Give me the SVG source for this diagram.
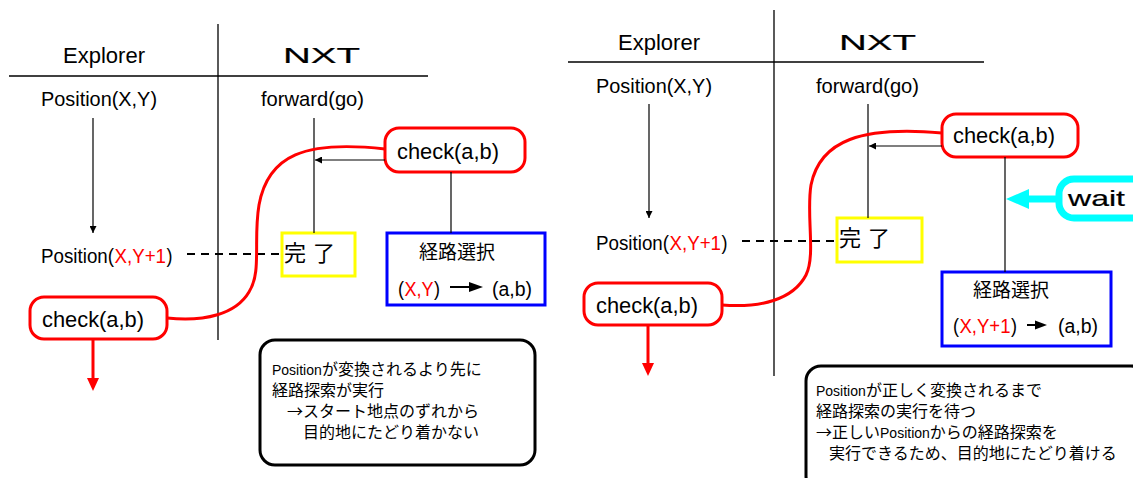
<svg xmlns="http://www.w3.org/2000/svg" width="1133" height="478" viewBox="0 0 1133 478">
<defs>
<style>
text{font-family:"Liberation Sans",Arial,"Noto Sans CJK JP",sans-serif;fill:#000}
.lbl{font-size:21px}
.hdr{font-size:22px}
.wide{font-size:22px;stroke:#000;stroke-width:0.2}
.chk{font-size:22px}
.jp{font-family:"Noto Sans CJK JP","Liberation Sans",sans-serif}
.note{font-size:16px}
.pos{font-family:"Liberation Sans",Arial,sans-serif;font-size:14px}
.red{fill:#ff0000}
.frame{stroke:#000;stroke-width:1.3;fill:none}
.thin{stroke:#000;stroke-width:1.2;fill:none}
.dash{stroke:#000;stroke-width:2;stroke-dasharray:8 6;fill:none}
.rbox{fill:#fff;stroke:#ff0000;stroke-width:3}
.ybox{fill:#fff;stroke:#ffff00;stroke-width:3}
.bbox{fill:#fff;stroke:#0000ff;stroke-width:3}
.nbox{fill:#fff;stroke:#000;stroke-width:3}
.cbox{fill:#fff;stroke:#00ffff;stroke-width:7}
.curve{stroke:#ff0000;stroke-width:3;fill:none}
</style>
<marker id="ah" viewBox="0 0 10 10" refX="10" refY="5" markerWidth="7" markerHeight="7" markerUnits="userSpaceOnUse" orient="auto"><path d="M0,0 L10,5 L0,10 z" fill="#000"/></marker>
</defs>

<!-- LEFT DIAGRAM -->
<g id="left-frame">
<line class="frame" x1="218" y1="24" x2="218" y2="340"/>
<line class="frame" x1="9" y1="76" x2="428" y2="76"/>
<text class="hdr" x="104" y="63" text-anchor="middle">Explorer</text>
<text class="wide" x="283" y="63" textLength="77" lengthAdjust="spacingAndGlyphs">NXT</text>
</g>
<g id="left-pos1"><text class="lbl" x="41" y="106" textLength="116" lengthAdjust="spacingAndGlyphs">Position(X,Y)</text></g>
<g id="left-forward"><text class="lbl" x="261" y="106" textLength="103" lengthAdjust="spacingAndGlyphs">forward(go)</text></g>
<g id="left-pos2">
<text class="lbl" x="41" y="263" textLength="73" lengthAdjust="spacingAndGlyphs">Position(</text>
<text class="lbl red" x="114.5" y="263" textLength="51.5" lengthAdjust="spacingAndGlyphs">X,Y+1</text>
<text class="lbl" x="166.5" y="263" textLength="6" lengthAdjust="spacingAndGlyphs">)</text>
</g>
<g id="left-done"><rect class="ybox" x="282" y="233" width="73" height="43"/><text class="jp" x="284" y="261" font-size="22" letter-spacing="7">完了</text></g>
<g id="left-route"><rect class="bbox" x="387" y="233" width="158" height="72"/>
<text class="jp" x="419" y="259" font-size="19">経路選択</text>
<text x="398" y="296" font-size="20" textLength="6" lengthAdjust="spacingAndGlyphs">(</text>
<text class="red" x="404.5" y="296" font-size="20" textLength="29" lengthAdjust="spacingAndGlyphs">X,Y</text>
<text x="434" y="296" font-size="20" textLength="6" lengthAdjust="spacingAndGlyphs">)</text>
<line x1="450" y1="287" x2="470" y2="287" stroke="#000" stroke-width="2"/><path d="M469,282 L483,287 L469,292 z" fill="#000"/>
<text x="492" y="296" font-size="20" textLength="40" lengthAdjust="spacingAndGlyphs">(a,b)</text></g>
<g id="left-check-top"><rect class="rbox" x="385" y="128" width="140" height="44" rx="14"/><text class="chk" x="397" y="159" textLength="102" lengthAdjust="spacingAndGlyphs">check(a,b)</text></g>
<g id="left-check-bottom"><rect class="rbox" x="30" y="297" width="137" height="42" rx="14"/><text class="chk" x="42" y="327" textLength="102" lengthAdjust="spacingAndGlyphs">check(a,b)</text></g>
<g id="left-note"><rect class="nbox" x="260" y="340" width="275" height="125" rx="15"/>
<text class="pos" x="272" y="375">Position</text>
<text class="jp note" x="322" y="375">が変換されるより先に</text>
<text class="jp note" x="272" y="396">経路探索が実行</text>
<text class="jp note" x="287" y="417">→スタート地点のずれから</text>
<text class="jp note" x="303" y="438">目的地にたどり着かない</text>
</g>

<!-- RIGHT DIAGRAM -->
<g id="right-frame">
<line class="frame" x1="774" y1="10" x2="774" y2="376"/>
<line class="frame" x1="568" y1="62" x2="984" y2="62"/>
<text class="hdr" x="659" y="50" text-anchor="middle">Explorer</text>
<text class="wide" x="839" y="50" textLength="77" lengthAdjust="spacingAndGlyphs">NXT</text>
</g>
<g id="right-pos1"><text class="lbl" x="596" y="93" textLength="116" lengthAdjust="spacingAndGlyphs">Position(X,Y)</text></g>
<g id="right-forward"><text class="lbl" x="816" y="93" textLength="103" lengthAdjust="spacingAndGlyphs">forward(go)</text></g>
<g id="right-pos2">
<text class="lbl" x="596" y="250" textLength="73" lengthAdjust="spacingAndGlyphs">Position(</text>
<text class="lbl red" x="669.5" y="250" textLength="51.5" lengthAdjust="spacingAndGlyphs">X,Y+1</text>
<text class="lbl" x="721.5" y="250" textLength="6" lengthAdjust="spacingAndGlyphs">)</text>
</g>
<g id="right-done"><rect class="ybox" x="837" y="218" width="85" height="44"/><text class="jp" x="839" y="246" font-size="22" letter-spacing="7">完了</text></g>
<g id="right-route"><rect class="bbox" x="942" y="272" width="169" height="74"/>
<text class="jp" x="973" y="297" font-size="19">経路選択</text>
<text x="953" y="333" font-size="20" textLength="6" lengthAdjust="spacingAndGlyphs">(</text>
<text class="red" x="959.5" y="333" font-size="20" textLength="51" lengthAdjust="spacingAndGlyphs">X,Y+1</text>
<text x="1011" y="333" font-size="20" textLength="6" lengthAdjust="spacingAndGlyphs">)</text>
<line x1="1027" y1="325" x2="1037" y2="325" stroke="#000" stroke-width="2"/><path d="M1035,320.5 L1047,325 L1035,329.5 z" fill="#000"/>
<text x="1058" y="333" font-size="20" textLength="40" lengthAdjust="spacingAndGlyphs">(a,b)</text></g>
<g id="right-check-top"><rect class="rbox" x="942" y="114" width="136" height="43" rx="14"/><text class="chk" x="953" y="143" textLength="102" lengthAdjust="spacingAndGlyphs">check(a,b)</text></g>
<g id="right-check-bottom"><rect class="rbox" x="584" y="283" width="138" height="42" rx="14"/><text class="chk" x="596" y="313" textLength="102" lengthAdjust="spacingAndGlyphs">check(a,b)</text></g>
<g id="right-wait"><rect class="cbox" x="1059" y="179" width="100" height="39" rx="15"/><text class="wide" x="1068" y="206" font-size="24" textLength="57" lengthAdjust="spacingAndGlyphs">wait</text></g>
<g id="right-note"><rect class="nbox" x="806" y="366" width="340" height="125" rx="15"/>
<text class="pos" x="816" y="396">Position</text>
<text class="jp note" x="866" y="396">が正しく変換されるまで</text>
<text class="jp note" x="816" y="417">経路探索の実行を待つ</text>
<text class="jp note" x="816" y="438">→正しい<tspan class="pos">Position</tspan>からの経路探索を</text>
<text class="jp note" x="829" y="459">実行できるため、目的地にたどり着ける</text>
</g>

<g id="connectors">
<!-- left -->
<line class="thin" x1="93" y1="118" x2="93" y2="233" marker-end="url(#ah)"/>
<line class="thin" x1="314" y1="118" x2="314" y2="233"/>
<line class="thin" x1="385" y1="160" x2="315" y2="160" marker-end="url(#ah)"/>
<line class="thin" x1="451" y1="172" x2="451" y2="233"/>
<line class="dash" x1="187" y1="254" x2="282" y2="254"/>
<path class="curve" d="M385,149 C305,140 268,155 259,205 C253,240 262,272 249,292 C236,314 205,322 167,318"/>
<line x1="93" y1="339" x2="93" y2="379" stroke="#ff0000" stroke-width="3"/>
<path d="M87,378 L99,378 L93,391 z" fill="#ff0000"/>
<!-- right -->
<line class="thin" x1="649" y1="104" x2="649" y2="218" marker-end="url(#ah)"/>
<line class="thin" x1="868" y1="104" x2="868" y2="218"/>
<line class="thin" x1="942" y1="146" x2="869" y2="146" marker-end="url(#ah)"/>
<line class="thin" x1="1005" y1="157" x2="1005" y2="272"/>
<line class="dash" x1="742" y1="241" x2="837" y2="241"/>
<path class="curve" d="M942,133 C862,126 820,140 811,185 C806,215 816,255 806,275 C793,300 760,308 722,305"/>
<line x1="648" y1="325" x2="648" y2="364" stroke="#ff0000" stroke-width="3"/>
<path d="M642,363 L654,363 L648,376 z" fill="#ff0000"/>
<line x1="1056" y1="199" x2="1026" y2="199" stroke="#00ffff" stroke-width="7"/>
<path d="M1029,189 L1029,209 L1006,199 z" fill="#00ffff"/>
</g>
</svg>
